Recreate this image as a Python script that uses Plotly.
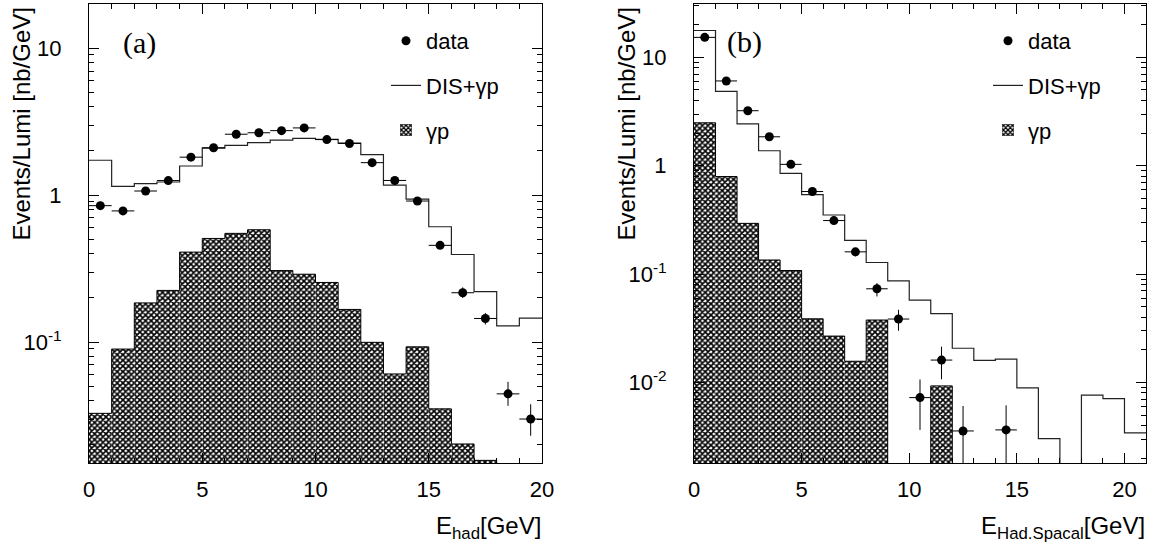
import plotly.graph_objects as go

W, H = 1163, 547
FONT = "Liberation Sans, Arial, Helvetica, sans-serif"
SERIF = "Liberation Serif, Times New Roman, serif"

# ---------------- panel (a): E_had ----------------
edges_a = [0, 1, 2, 3, 4, 5, 6, 7, 8, 9, 10, 11, 12, 13, 14, 15, 16, 17, 18, 19, 20]
centers_a = [0.5, 1.5, 2.5, 3.5, 4.5, 5.5, 6.5, 7.5, 8.5, 9.5,
             10.5, 11.5, 12.5, 13.5, 14.5, 15.5, 16.5, 17.5, 18.5, 19.5]
dis_a = [1.73, 1.15, 1.20, 1.23, 1.58, 2.09, 2.18, 2.28, 2.37, 2.44,
         2.40, 2.26, 1.89, 1.17, 0.94, 0.61, 0.395, 0.221, 0.129, 0.146]
gp_a = [0.0328, 0.0898, 0.185, 0.225, 0.41, 0.508, 0.55, 0.582, 0.307, 0.29,
        0.255, 0.167, 0.0998, 0.0608, 0.093, 0.0352, 0.0203, 0.0157, 0, 0]
data_a = [0.849, 0.782, 1.068, 1.258, 1.815, 2.104, 2.60, 2.66, 2.75, 2.87,
          2.39, 2.25, 1.665, 1.26, 0.913, 0.456, 0.217, 0.145, 0.0445, 0.030]
err_up_a = [0.02, 0.02, 0.025, 0.03, 0.04, 0.045, 0.05, 0.05, 0.055, 0.06,
            0.05, 0.05, 0.04, 0.03, 0.025, 0.015, 0.019, 0.013, 0.0092, 0.0078]
err_dn_a = [0.02, 0.02, 0.025, 0.03, 0.04, 0.045, 0.05, 0.05, 0.055, 0.06,
            0.05, 0.05, 0.04, 0.03, 0.025, 0.015, 0.017, 0.013, 0.0076, 0.0069]

# ---------------- panel (b): E_Had.Spacal ----------------
edges_b = [0, 1, 2, 3, 4, 5, 6, 7, 8, 9, 10, 11, 12, 13, 14, 15, 16, 17, 18, 19, 20, 21]
centers_b = [0.5, 1.5, 2.5, 3.5, 4.5, 5.5, 6.5, 7.5, 8.5, 9.5, 10.5,
             11.5, 12.5, 13.5, 14.5, 15.5, 16.5, 17.5, 18.5, 19.5, 20.5]
dis_b = [17.7, 4.85, 2.43, 1.375, 0.85, 0.541, 0.351, 0.205, 0.128, 0.0867, 0.0575,
         0.0432, 0.0207, 0.0160, 0.0164, 0.00890, 0.00303, 0, 0.00763, 0.00710, 0.00343]
gp_b = [2.49, 0.795, 0.294, 0.135, 0.108, 0.0387, 0.0268, 0.0157, 0.0377, 0, 0,
        0.0093, 0, 0, 0, 0, 0, 0, 0, 0, 0]
data_x_b = [0.5, 1.5, 2.5, 3.5, 4.5, 5.5, 6.5, 7.5, 8.5, 9.5, 10.5, 11.5, 12.5, 14.5]
data_b = [15.3, 6.06, 3.22, 1.85, 1.03, 0.578, 0.312, 0.1605, 0.0732, 0.0385,
          0.00725, 0.0161, 0.00357, 0.00365]
err_up_b = [0.3, 0.12, 0.07, 0.04, 0.025, 0.015, 0.01, 0.0135, 0.0094, 0.0084,
            0.0034, 0.0053, 0.0025, 0.0025]
err_dn_b = [0.3, 0.12, 0.07, 0.04, 0.025, 0.015, 0.01, 0.0149, 0.011, 0.0085,
            0.0036, 0.0054, 0.0025, 0.0025]

FLOOR = 1e-6  # where an empty bin's outline drops to (below the visible range)


def step_xy(edges, vals):
    ys = [v if v > 0 else FLOOR for v in vals]
    return edges, ys + [ys[-1]]


PATTERN = dict(shape="x", size=4, solidity=0.65, fgcolor="black", bgcolor="white")

fig = go.Figure()


def add_panel(xa, ya, legend, edges, centers, dis, gp, dx, dy, eu, ed):
    # gamma-p hatched histogram
    fig.add_trace(go.Bar(
        x=centers, y=[v if v > 0 else None for v in gp], width=1,
        marker=dict(color="white", line=dict(width=0), pattern=PATTERN),
        xaxis=xa, yaxis=ya, name="γp", legend=legend, legendgroup=legend + "g",
        legendrank=3, showlegend=True))
    sx, sy = step_xy(edges, gp)
    fig.add_trace(go.Scatter(
        x=sx, y=sy, mode="lines", line=dict(shape="hv", color="black", width=1),
        xaxis=xa, yaxis=ya, showlegend=False, hoverinfo="skip"))
    # DIS + gamma-p
    sx, sy = step_xy(edges, dis)
    fig.add_trace(go.Scatter(
        x=sx, y=sy, mode="lines", line=dict(shape="hv", color="#222222", width=1.2),
        xaxis=xa, yaxis=ya, name="DIS+γp", legend=legend, legendgroup=legend + "d",
        legendrank=2))
    # data
    fig.add_trace(go.Scatter(
        x=dx, y=dy, mode="markers",
        marker=dict(symbol="circle", size=9, color="black"),
        error_x=dict(type="constant", value=0.5, width=0, thickness=1, color="black"),
        error_y=dict(type="data", array=eu, arrayminus=ed, width=0, thickness=1, color="black"),
        xaxis=xa, yaxis=ya, name="data", legend=legend, legendgroup=legend + "a",
        legendrank=1))


add_panel("x", "y", "legend", edges_a, centers_a, dis_a, gp_a, centers_a, data_a, err_up_a, err_dn_a)
add_panel("x2", "y2", "legend2", edges_b, centers_b, dis_b, gp_b, data_x_b, data_b, err_up_b, err_dn_b)


def minor_log(lo_exp, hi_exp):
    vals = []
    for e in range(lo_exp, hi_exp + 1):
        for m in range(2, 10):
            vals.append(m * 10.0 ** e)
    return vals


common_x = dict(showline=True, linecolor="black", linewidth=1, mirror="allticks",
                ticks="inside", ticklen=10, tickwidth=1, tickcolor="black",
                showgrid=False, zeroline=False, automargin=False,
                tickfont=dict(family=FONT, size=22, color="black"),
                ticklabelstandoff=7)
common_y = dict(type="log", showline=True, linecolor="black", linewidth=1, mirror="allticks",
                ticks="inside", ticklen=10, tickwidth=1, tickcolor="black",
                showgrid=False, zeroline=False, automargin=False,
                tickfont=dict(family=FONT, size=22, color="black"),
                ticklabelstandoff=22)

ydom = [1 - 463 / H, 1 - 4 / H]

fig.update_layout(
    xaxis=dict(domain=[89 / W, 542 / W], range=[0, 20], anchor="y",
               tickmode="array", tickvals=[0, 5, 10, 15, 20],
               minor=dict(tickmode="array", tickvals=edges_a, ticks="inside", ticklen=5,
                          tickcolor="black", tickwidth=1),
               **common_x),
    yaxis=dict(domain=ydom, range=[-1.822, 1.301], anchor="x",
               tickmode="array", tickvals=[0.1, 1, 10],
               ticktext=["10<sup>-1</sup>", "1", "10"],
               minor=dict(tickmode="array", tickvals=minor_log(-2, 0), ticks="inside",
                          ticklen=5, tickcolor="black", tickwidth=1),
               **common_y),
    xaxis2=dict(domain=[694 / W, 1146 / W], range=[0, 21], anchor="y2",
                tickmode="array", tickvals=[0, 5, 10, 15, 20],
                minor=dict(tickmode="array", tickvals=edges_b, ticks="inside", ticklen=5,
                           tickcolor="black", tickwidth=1),
                **common_x),
    yaxis2=dict(domain=ydom, range=[-2.743, 1.4925], anchor="x2",
                tickmode="array", tickvals=[0.01, 0.1, 1, 10],
                ticktext=["10<sup>-2</sup>", "10<sup>-1</sup>", "1", "10"],
                minor=dict(tickmode="array", tickvals=minor_log(-3, 1), ticks="inside",
                           ticklen=5, tickcolor="black", tickwidth=1),
                **common_y),
    barmode="overlay",
    width=W, height=H,
    margin=dict(l=0, r=0, t=0, b=0),
    paper_bgcolor="white", plot_bgcolor="white",
    template="none",
    font=dict(family=FONT, size=22, color="black"),
    legend=dict(x=386 / W, y=1 - 20 / H, xanchor="left", yanchor="top",
                bgcolor="rgba(0,0,0,0)", font=dict(family=FONT, size=22, color="black"),
                traceorder="grouped", tracegroupgap=13, itemwidth=30),
    legend2=dict(x=988 / W, y=1 - 20 / H, xanchor="left", yanchor="top",
                 bgcolor="rgba(0,0,0,0)", font=dict(family=FONT, size=22, color="black"),
                 traceorder="grouped", tracegroupgap=13, itemwidth=30),
    annotations=[
        dict(text="Events/Lumi [nb/GeV]", textangle=-90, x=21 / W, y=1 - 6 / H,
             xref="paper", yref="paper", xanchor="center", yanchor="top", showarrow=False,
             font=dict(family=FONT, size=24, color="black")),
        dict(text="Events/Lumi [nb/GeV]", textangle=-90, x=626 / W, y=1 - 6 / H,
             xref="paper", yref="paper", xanchor="center", yanchor="top", showarrow=False,
             font=dict(family=FONT, size=24, color="black")),
        dict(text="E<sub>had</sub>[GeV]", x=543 / W, y=1 - 527 / H,
             xref="paper", yref="paper", xanchor="right", yanchor="middle", showarrow=False,
             font=dict(family=FONT, size=24, color="black")),
        dict(text="E<sub>Had.Spacal</sub>[GeV]", x=1147 / W, y=1 - 527 / H,
             xref="paper", yref="paper", xanchor="right", yanchor="middle", showarrow=False,
             font=dict(family=FONT, size=24, color="black")),
        dict(text="(a)", x=139 / W, y=1 - 43 / H, xref="paper", yref="paper",
             xanchor="center", yanchor="middle", showarrow=False,
             font=dict(family=SERIF, size=30, color="black")),
        dict(text="(b)", x=744 / W, y=1 - 42 / H, xref="paper", yref="paper",
             xanchor="center", yanchor="middle", showarrow=False,
             font=dict(family=SERIF, size=30, color="black")),
    ],
)

fig.write_html("out.html")
